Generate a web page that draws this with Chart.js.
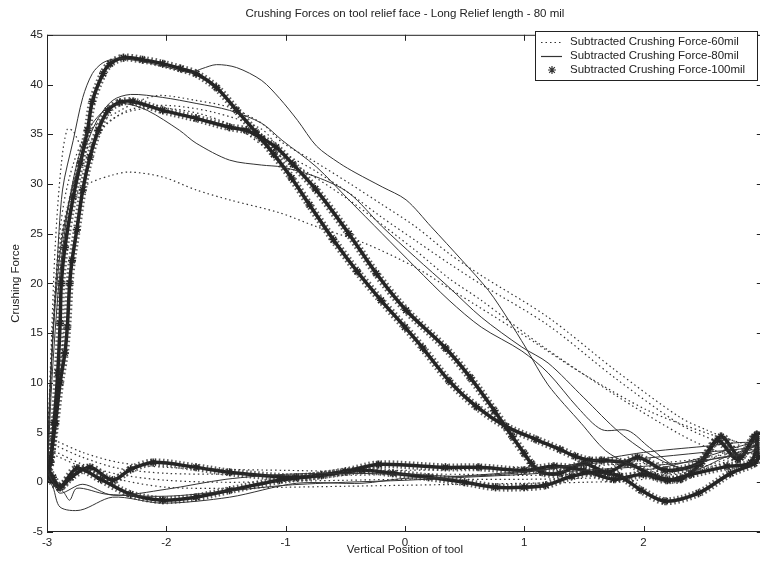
<!DOCTYPE html>
<html>
<head>
<meta charset="utf-8">
<script src="https://cdn.jsdelivr.net/npm/chart.js@4.4.0/dist/chart.umd.min.js"></script>
<style>
    html, body { margin: 0; padding: 0; background: #fff; overflow: hidden; }
    #caixa { width: 770px; height: 564px; }
</style>
</head>
<body>
<div id="caixa"><canvas id="graficoForca" width="770" height="564"></canvas></div>
<script>
// Textos do gráfico
const titulo = 'Crushing Forces on tool relief face - Long Relief length - 80 mil';
const tituloX = 'Vertical Position of tool';
const tituloY = 'Crushing Force';
const legendas = ['Subtracted Crushing Force-60mil', 'Subtracted Crushing Force-80mil', 'Subtracted Crushing Force-100mil'];

// Ticks dos eixos
const ticksX = [-3, -2, -1, 0, 1, 2, 3];
const ticksY = [-5, 0, 5, 10, 15, 20, 25, 30, 35, 40, 45];

// 60 mil (pontilhado) - cada ensaio vai de -3 até 3 e volta
const forca60a = [[-3, 1], [-2.98, 8], [-2.95, 16], [-2.91, 23], [-2.86, 28], [-2.78, 32], [-2.68, 34.8], [-2.55, 36.3], [-2.4, 37.3], [-2.22, 38.4], [-2.05, 38.9], [-1.75, 38.4], [-1.47, 37.7], [-1.2, 36.1], [-1.03, 34.2], [-0.75, 32.2], [-0.47, 30.1], [-0.2, 28.0], [0.09, 25.7], [0.37, 23.0], [0.64, 20.8], [1.2, 16.6], [1.76, 11.3], [2.31, 6.5], [2.54, 5.2], [2.75, 4.2], [2.95, 3.5],
    [2.9, 3.3], [2.6, 2.6], [2.2, 2.0], [1.8, 1.8], [1.4, 1.6], [1.0, 1.5], [0.5, 1.3], [0, 1.2], [-0.5, 1.1], [-1, 1.2], [-1.5, 1.3], [-2, 1.5], [-2.4, 2.0], [-2.7, 3.0], [-2.95, 4.3], [-3, 4.5]];
const forca60b = [[-3, 2], [-2.97, 12], [-2.93, 24], [-2.88, 32], [-2.83, 35.5], [-2.78, 35.3], [-2.7, 33.6], [-2.62, 34.0], [-2.5, 36.0], [-2.3, 37.5], [-2.0, 37.9], [-1.6, 37.2], [-1.2, 35.5], [-1.03, 33.3], [-0.75, 31.3], [-0.47, 29.1], [-0.2, 26.7], [0.09, 24.3], [0.37, 22.0], [0.64, 19.9], [1.2, 15.8], [1.76, 10.5], [2.31, 5.8], [2.6, 4.2], [2.85, 3.2],
    [2.8, 2.8], [2.5, 1.6], [2.0, 1.0], [1.5, 0.8], [1.0, 0.7], [0.5, 0.8], [0, 0.8], [-0.5, 0.7], [-1, 0.7], [-1.5, 0.8], [-2, 0.9], [-2.4, 1.4], [-2.7, 2.5], [-2.95, 3.8], [-3, 4]];
const forca60c = [[-3, 1], [-2.97, 10], [-2.93, 19], [-2.86, 26], [-2.75, 31], [-2.62, 34.5], [-2.47, 36.4], [-2.28, 37.4], [-2.0, 37.6], [-1.7, 37.0], [-1.4, 35.6], [-1.15, 33.5], [-0.89, 31.7], [-0.47, 28.4], [0.09, 23.3], [0.37, 20.5], [0.64, 18.3], [1.14, 13.8], [1.76, 8.8], [2.31, 4.8], [2.6, 3.2], [2.8, 2.6],
    [2.75, 2.3], [2.4, 1.0], [2.0, 0.6], [1.5, 0.4], [1.0, 0.3], [0.5, 0.3], [0, 0.3], [-0.5, 0.2], [-1, 0.1], [-1.5, 0.0], [-2, 0.2], [-2.4, 0.8], [-2.7, 1.8], [-2.95, 3.2], [-3, 3.5]];
const forca60d = [[-3, 0], [-2.98, 7], [-2.95, 15], [-2.91, 22], [-2.85, 26.5], [-2.75, 29.0], [-2.64, 30.1], [-2.45, 30.9], [-2.31, 31.2], [-2.03, 30.7], [-1.75, 29.4], [-1.47, 28.4], [-1.05, 27.1], [-0.74, 25.7], [-0.33, 24.0], [0.09, 21.6], [0.37, 19.5], [0.93, 15.3], [1.48, 11.0], [2.04, 7.2], [2.54, 4.9], [2.81, 3.9],
    [2.75, 3.5], [2.5, 2.0], [2.0, 0.3], [1.5, 0.0], [1.0, -0.1], [0.5, -0.2], [0, -0.3], [-0.5, -0.4], [-1, -0.5], [-1.5, -0.6], [-2, -0.5], [-2.4, 0.3], [-2.7, 1.5], [-2.95, 2.8], [-3, 3]];

// 80 mil (linha cheia)
const forca80a = [[-3, 0], [-2.98, 8], [-2.95, 15], [-2.92, 21], [-2.87, 29.4], [-2.78, 34.4], [-2.7, 38.7], [-2.62, 41.1], [-2.53, 42.2], [-2.41, 42.6], [-2.2, 42.3], [-1.95, 41.6], [-1.8, 41.2], [-1.7, 41.6], [-1.58, 42.0], [-1.41, 41.7], [-1.2, 40.4], [-1.05, 38.6], [-0.9, 36.4], [-0.74, 33.8], [-0.55, 32.1], [-0.41, 31.1], [-0.19, 29.7], [0.01, 28.4], [0.22, 25.7], [0.48, 22.3], [0.7, 19.3], [0.87, 16.3], [1.01, 13.6], [1.2, 9.8], [1.48, 5.9], [1.68, 3.2], [1.87, 1.9], [2.05, 1.3], [2.5, 2.5], [2.8, 3.6], [2.95, 4.0],
    [2.9, 3.5], [2.5, 3.0], [2.0, 2.4], [1.5, 1.8], [1.0, 1.0], [0.5, 0.6], [0, 0.8], [-0.5, 0.9], [-1, 0.8], [-1.5, 0.3], [-2, -0.7], [-2.45, -1.3], [-2.7, -0.2], [-2.89, -1.1], [-2.95, 0], [-3, 1]];
const forca80b = [[-3, 0], [-2.97, 10], [-2.93, 18], [-2.88, 24], [-2.8, 29], [-2.7, 33], [-2.58, 36.4], [-2.45, 38.4], [-2.3, 39.0], [-2.03, 38.7], [-1.75, 38.1], [-1.47, 37.4], [-1.2, 36.1], [-1.03, 34.4], [-0.74, 31.7], [-0.47, 28.4], [-0.19, 25.0], [0.09, 21.6], [0.37, 18.3], [0.64, 15.6], [0.98, 13.2], [1.2, 11.0], [1.45, 7.5], [1.65, 5.3], [1.87, 5.2], [2.05, 3.5], [2.3, 1.5], [2.6, 2.4], [2.95, 3.2],
    [2.9, 4.0], [2.5, 3.6], [2.0, 3.0], [1.5, 2.0], [1.18, 1.3], [0.8, 0.9], [0.3, 0.5], [0, 0.4], [-0.36, -0.1], [-0.91, -0.1], [-1.47, -1.5], [-2.03, -2.1], [-2.45, -1.5], [-2.72, -2.8], [-2.89, -2.5], [-2.95, -0.5], [-3, 0.5]];
const forca80c = [[-3, 0], [-2.96, 10], [-2.9, 20], [-2.83, 27], [-2.75, 32], [-2.65, 35.5], [-2.5, 37.6], [-2.36, 38.1], [-2.16, 37.4], [-1.89, 35.4], [-1.75, 34.1], [-1.47, 32.4], [-1.2, 31.9], [-1.03, 31.7], [-0.74, 30.7], [-0.47, 29.1], [-0.19, 25.7], [0.09, 22.6], [0.37, 19.6], [0.64, 16.6], [0.98, 13.6], [1.2, 12.0], [1.5, 8.5], [1.8, 5.0], [2.1, 2.5], [2.4, 1.2], [2.7, 2.6], [2.95, 3.6],
    [2.9, 3.0], [2.5, 2.2], [2.0, 1.6], [1.5, 1.2], [1.0, 0.8], [0.5, 0.5], [0, 0.2], [-0.5, 0.0], [-1, -0.3], [-1.5, -0.9], [-2, -1.4], [-2.5, -1.2], [-2.75, -0.6], [-2.81, -1.8], [-2.86, -1.0], [-2.95, 0], [-3, 1.5]];

// 100 mil (marcadores)
const forca100a = [[-3, 0.5], [-2.97, 2], [-2.94, 6], [-2.91, 11], [-2.89, 16], [-2.88, 20], [-2.85, 23.6], [-2.78, 28.7], [-2.72, 32.1], [-2.66, 35.4], [-2.62, 38.3], [-2.53, 41.1], [-2.47, 42.1], [-2.36, 42.7], [-2.2, 42.5], [-2.03, 42.1], [-1.88, 41.6], [-1.75, 41.1], [-1.58, 39.7], [-1.41, 37.4], [-1.25, 35.2], [-1.1, 33.0], [-0.95, 30.6], [-0.8, 27.9], [-0.6, 24.4], [-0.4, 21.2], [-0.2, 18.3], [0.0, 15.6], [0.15, 13.5], [0.37, 10.2], [0.6, 7.6], [0.85, 5.6], [1.1, 4.3], [1.3, 3.3], [1.43, 2.6], [1.55, 2.2], [1.65, 2.2], [1.87, 1.9], [2.1, 0.6], [2.31, 0.3], [2.48, 1.9], [2.65, 4.6], [2.81, 2.5], [2.93, 4.6],
    [2.96, 2.5], [2.93, 1.9], [2.73, 0.9], [2.46, -1.1], [2.18, -1.9], [1.98, -0.8], [1.8, 0.6], [1.6, 1.0], [1.4, 0.6], [1.18, -0.3], [1.0, -0.5], [0.76, -0.5], [0.5, 0.0], [0.2, 0.5], [-0.1, 0.9], [-0.36, 1.2], [-0.7, 0.7], [-1.05, 0.2], [-1.47, -0.8], [-1.75, -1.5], [-2.03, -1.8], [-2.3, -1.2], [-2.55, 0.3], [-2.75, 1.4], [-2.89, -0.5], [-2.95, 0.5], [-3, 1.5]];
const forca100b = [[-3, 1], [-2.97, 2.5], [-2.93, 5.9], [-2.89, 10], [-2.85, 13], [-2.83, 15.6], [-2.81, 20], [-2.79, 22.3], [-2.75, 25.4], [-2.70, 29.4], [-2.64, 32.7], [-2.57, 35.4], [-2.49, 37.4], [-2.39, 38.2], [-2.28, 38.3], [-2.03, 37.4], [-1.75, 36.6], [-1.47, 35.7], [-1.33, 35.4], [-1.2, 34.6], [-1.08, 33.7], [-0.94, 32.0], [-0.75, 29.5], [-0.47, 25.0], [-0.24, 21.0], [0.01, 17.3], [0.34, 13.5], [0.55, 10.5], [0.75, 7.2], [0.9, 4.6], [1.0, 2.9], [1.06, 1.9], [1.15, 1.0], [1.3, 0.9], [1.5, 1.9], [1.7, 1.0], [1.95, 2.5], [2.18, 1.2], [2.46, 1.9], [2.62, 4.2], [2.79, 2.3], [2.95, 4.8],
    [2.9, 2.0], [2.7, 1.6], [2.4, 0.8], [2.2, 0.2], [2.0, 0.8], [1.75, 0.3], [1.5, 1.2], [1.25, 1.6], [1.0, 1.2], [0.62, 1.5], [0.34, 1.5], [-0.22, 1.8], [-0.5, 1.1], [-0.91, 0.5], [-1.47, 1.0], [-1.75, 1.5], [-2.11, 2.0], [-2.3, 1.3], [-2.45, 0.2], [-2.64, 1.5], [-2.8, 0.5], [-2.89, -0.5], [-2.97, 0.3], [-3, 2]];

const fonte = "'Liberation Sans', Arial, sans-serif";
const corLinha = '#333';

// estilos de cada grupo (60 pontilhado, 80 cheio, 100 marcadores)
const estilos = [
    { borderWidth: 1.2, borderDash: [1.5, 3], pointRadius: 0, pointStyle: false },
    { borderWidth: 1, borderDash: [], pointRadius: 0, pointStyle: false },
    { borderWidth: 3.5, borderDash: [], pointRadius: 4, pointStyle: 'star' }
];

function montarSerie(pontos, grupo) {
    let est = estilos[grupo];
    return {
        label: legendas[grupo],
        data: pontos.map(p => ({ x: p[0], y: p[1] })),
        borderColor: grupo == 2 ? '#242424' : corLinha,
        borderWidth: est.borderWidth,
        borderDash: est.borderDash,
        pointRadius: est.pointRadius,
        pointStyle: est.pointStyle,
        pointBorderColor: '#242424',
        pointBorderWidth: 1.4,
        pointBackgroundColor: '#242424',
        tension: 0.3,
        fill: false
    };
}

// borda "felpuda" dos marcadores densos de 100 mil
function montarHalo(pontos) {
    return {
        label: legendas[2],
        data: pontos.map(p => ({ x: p[0], y: p[1] })),
        borderColor: 'rgba(40,40,40,0.75)',
        borderWidth: 8,
        borderDash: [1.5, 2.5],
        pointRadius: 0,
        tension: 0.3,
        fill: false
    };
}

let series = [
    montarSerie(forca60a, 0), montarSerie(forca60b, 0), montarSerie(forca60c, 0), montarSerie(forca60d, 0),
    montarSerie(forca80a, 1), montarSerie(forca80b, 1), montarSerie(forca80c, 1),
    montarHalo(forca100a), montarHalo(forca100b),
    montarSerie(forca100a, 2), montarSerie(forca100b, 2)
];

// moldura do eixo, ticks para dentro e legenda com caixa
const molduraPlugin = {
    id: 'moldura',
    afterDraw(chart) {
        const ctx = chart.ctx;
        const a = chart.chartArea;
        ctx.save();
        ctx.strokeStyle = '#222';
        ctx.lineWidth = 1;
        ctx.setLineDash([]);
        ctx.strokeRect(a.left + 0.5, a.top + 0.5, a.right - a.left - 1, a.bottom - a.top - 1);

        ctx.beginPath();
        ticksX.forEach(v => {
            let px = Math.round(chart.scales.x.getPixelForValue(v)) + 0.5;
            ctx.moveTo(px, a.bottom); ctx.lineTo(px, a.bottom - 6);
            ctx.moveTo(px, a.top); ctx.lineTo(px, a.top + 6);
        });
        ticksY.forEach(v => {
            let py = Math.round(chart.scales.y.getPixelForValue(v)) + 0.5;
            ctx.moveTo(a.left, py); ctx.lineTo(a.left + 6, py);
            ctx.moveTo(a.right, py); ctx.lineTo(a.right - 6, py);
        });
        ctx.stroke();

        // legenda
        let caixa = { x: 535, y: 31, w: 222, h: 49 };
        ctx.fillStyle = '#fff';
        ctx.fillRect(caixa.x, caixa.y, caixa.w, caixa.h);
        ctx.strokeRect(caixa.x + 0.5, caixa.y + 0.5, caixa.w, caixa.h);
        ctx.font = '11.5px ' + fonte;
        ctx.textBaseline = 'middle';
        ctx.textAlign = 'left';
        for (let i = 0; i < legendas.length; i++) {
            let yy = caixa.y + 11 + i * 14;
            ctx.strokeStyle = corLinha;
            if (i == 2) {
                Chart.helpers.drawPoint(ctx, { pointStyle: 'star', radius: 4, borderWidth: 1.6 }, caixa.x + 17, yy);
            } else {
                ctx.lineWidth = 1.2;
                ctx.setLineDash(estilos[i].borderDash);
                ctx.beginPath();
                ctx.moveTo(caixa.x + 6, yy + 0.5);
                ctx.lineTo(caixa.x + 27, yy + 0.5);
                ctx.stroke();
                ctx.setLineDash([]);
            }
            ctx.fillStyle = '#222';
            ctx.fillText(legendas[i], caixa.x + 35, yy);
        }
        ctx.restore();
    }
};

const configForca = {
    type: 'line',
    data: { datasets: series },
    options: {
        responsive: false,
        animation: false,
        events: [],
        layout: { padding: { left: 0, right: 5, top: 0, bottom: 0 } },
        plugins: {
            legend: { display: false },
            tooltip: { enabled: false },
            title: {
                display: true,
                text: titulo,
                fullSize: false,
                color: '#222',
                font: { family: fonte, size: 11.5, weight: 'normal' },
                padding: { top: 7, bottom: 14 }
            }
        },
        scales: {
            x: {
                type: 'linear',
                min: -3,
                max: 3,
                afterBuildTicks: (eixo) => { eixo.ticks = ticksX.map(v => ({ value: v })); },
                afterFit: (eixo) => { eixo.height = 32; },
                grid: { display: false, drawTicks: false },
                border: { display: false },
                ticks: { color: '#222', padding: 4, maxRotation: 0, autoSkip: false, font: { family: fonte, size: 11.5 } },
                title: { display: true, text: tituloX, color: '#222', font: { family: fonte, size: 11.5 }, padding: { top: 0, bottom: 7 } }
            },
            y: {
                min: -5,
                max: 45,
                afterBuildTicks: (eixo) => { eixo.ticks = ticksY.map(v => ({ value: v })); },
                afterFit: (eixo) => { eixo.width = 47; },
                grid: { display: false, drawTicks: false },
                border: { display: false },
                ticks: { color: '#222', padding: 4, font: { family: fonte, size: 11.5 } },
                title: { display: true, text: tituloY, color: '#222', font: { family: fonte, size: 11.5 }, padding: { top: 9, bottom: 0 } }
            }
        }
    },
    plugins: [molduraPlugin]
};

let graficoForca = new Chart(document.getElementById('graficoForca'), configForca);
</script>
</body>
</html>
